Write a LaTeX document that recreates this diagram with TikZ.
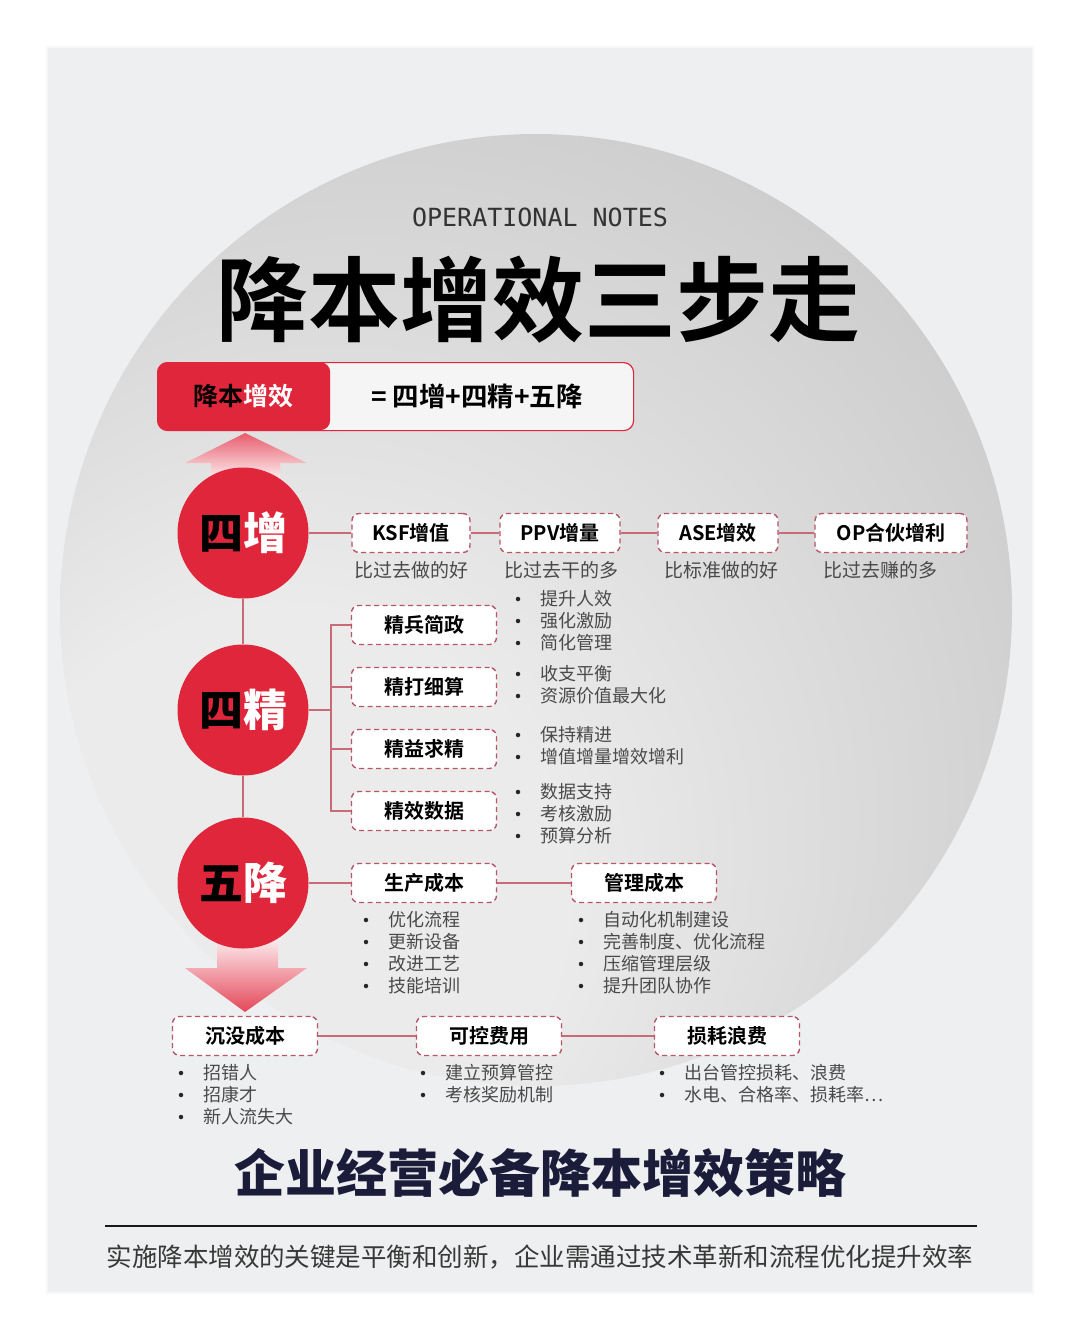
\documentclass[tikz,border=0pt]{standalone}
\usepackage{fontspec}
\setmainfont{Noto Sans CJK SC}
\newfontfamily\fbold{Noto Sans CJK SC Bold}
\newfontfamily\fblack{Noto Sans CJK SC Black}
\newfontfamily\fmono{DejaVu Sans Mono}
\definecolor{panel}{HTML}{EEEFF0}
\definecolor{cred}{HTML}{E0263B}
\definecolor{dashc}{HTML}{B5566A}
\definecolor{connc}{HTML}{C86A78}
\definecolor{txtgray}{HTML}{4A4A4A}
\definecolor{navy}{HTML}{1B1B3A}
\definecolor{bgA}{HTML}{EBEBEC}
\definecolor{bgB}{HTML}{BDBDBE}
\pgfdeclareradialshading{bigc}{\pgfpoint{-18bp}{-20bp}}{color(0bp)=(bgA); color(15bp)=(bgA); color(48bp)=(bgB); color(60bp)=(bgB)}
\newcommand\blist[4]{%
  \foreach \t [count=\i from 0] in {#4}{%
    \node[bdot] (#1d\i) at (#2,{#3+22*\i}) {};
    \node[bul] (#1t\i) at ({#2+22},{#3+22*\i}) {\t};}}
\tikzset{
  dbox/.style={draw=dashc, dash pattern=on 5pt off 3.5pt, line width=1.4pt, fill=white,
    rounded corners=7pt, minimum height=39pt, inner sep=0pt,
    font=\fbold\fontsize{20}{24}\selectfont, text=black},
  conn/.style={draw=connc, line width=1.2pt},
  sub/.style={font=\fontsize{19}{22}\selectfont, text=txtgray, inner sep=0pt},
  bul/.style={font=\fontsize{18}{21}\selectfont, text=txtgray, inner sep=0pt, anchor=west},
  bdot/.style={circle, fill=black!85, inner sep=0pt, minimum size=4.5pt},
  redc/.style={circle, fill=cred, minimum size=131pt, inner sep=0pt,
    font=\fblack\fontsize{44}{48}\selectfont},
}
\begin{document}
\begin{tikzpicture}[x=1pt,y=-1pt]
\useasboundingbox (0,0) rectangle (1080,1342);
\fill[white] (0,0) rectangle (1080,1342);
\fill[black!3] (46,46) rectangle (1034,1294);
\fill[panel] (48,48) rectangle (1032,1292);
% big circle
\begin{scope}
\clip (48,48) rectangle (1032,1292);
\shade[shading=bigc] (536,610) circle (476);
\end{scope}
% title
\node[font=\fmono\fontsize{25}{28}\selectfont, text=black!80] (op) at (540,217) {OPERATIONAL NOTES};
\node[font=\fbold\fontsize{92}{100}\selectfont, text=black] (title) at (538,300) {降本增效三步走};
% header
\node[draw=cred, line width=1.2pt, fill=panel!60!white, rounded corners=10pt, minimum width=476pt, minimum height=68pt, anchor=north west, inner sep=0pt] (hdr) at (157,362) {};
\node[fill=cred, rounded corners=10pt, minimum width=173pt, minimum height=68pt, anchor=north west, inner sep=0pt, font=\fbold\fontsize{25}{28}\selectfont] (hred) at (157,362) {\textcolor{black}{降本}\textcolor{white}{增效}};
\node[font=\fbold\fontsize{26.5}{30}\selectfont, text=black] (eq) at (477,396) {=\ 四增+四精+五降};
% arrows
\shade[top color=cred!75!white, bottom color=cred!6!white] (245,433) -- (307,463) -- (280,463) -- (280,480) -- (211,480) -- (211,463) -- (185,463) -- cycle;
\shade[top color=cred!5!white, bottom color=cred!85!white] (217,935) -- (278,935) -- (278,968) -- (307,968) -- (245,1012) -- (185,968) -- (217,968) -- cycle;
% circles
\node[redc] (c1) at (243,533) {\textcolor{black}{四}\textcolor{white}{增}};
\node[redc] (c2) at (243,710) {\textcolor{black}{四}\textcolor{white}{精}};
\node[redc] (c3) at (243,883) {\textcolor{black}{五}\textcolor{white}{降}};
\draw[conn] (c1) -- (c2);
\draw[conn] (c2) -- (c3);
% row 1
\node[dbox, minimum width=118pt] (ksf) at (411,533) {KSF增值};
\node[dbox, minimum width=120pt] (ppv) at (560,533) {PPV增量};
\node[dbox, minimum width=120pt] (ase) at (718,533) {ASE增效};
\node[dbox, minimum width=152pt] (opb) at (891,533) {OP合伙增利};
\draw[conn] (c1) -- (ksf);
\draw[conn] (ksf) -- (ppv);
\draw[conn] (ppv) -- (ase);
\draw[conn] (ase) -- (opb);
\node[sub] (s1) at (411,570) {比过去做的好};
\node[sub] (s2) at (561,570) {比过去干的多};
\node[sub] (s3) at (721,570) {比标准做的好};
\node[sub] (s4) at (880,570) {比过去赚的多};
% row 2
\node[dbox, minimum width=145pt] (j1) at (424,625) {精兵简政};
\node[dbox, minimum width=145pt] (j2) at (424,687) {精打细算};
\node[dbox, minimum width=145pt] (j3) at (424,749) {精益求精};
\node[dbox, minimum width=145pt] (j4) at (424,811) {精效数据};
\coordinate (bx) at (331,710);
\draw[conn] (c2) -- (bx);
\draw[conn] (j1.west) -| (bx);
\draw[conn] (j4.west) -| (bx);
\draw[conn] (j2.west) -- (j2.west -| bx);
\draw[conn] (j3.west) -- (j3.west -| bx);
\blist{ja}{518}{599}{提升人效,强化激励,简化管理}
\blist{jb}{518}{674}{收支平衡,资源价值最大化}
\blist{jc}{518}{735}{保持精进,增值增量增效增利}
\blist{jd}{518}{792}{数据支持,考核激励,预算分析}
% row 3
\node[dbox, minimum width=145pt] (sc) at (424,883) {生产成本};
\node[dbox, minimum width=145pt] (gl) at (644,883) {管理成本};
\draw[conn] (c3) -- (sc);
\draw[conn] (sc) -- (gl);
\blist{sa}{366}{920}{优化流程,更新设备,改进工艺,技能培训}
\blist{ga}{581}{920}{自动化机制建设,完善制度、优化流程,压缩管理层级,提升团队协作}
% row 4
\node[dbox, minimum width=145pt] (cm) at (245,1036) {沉没成本};
\node[dbox, minimum width=145pt] (kk) at (489,1036) {可控费用};
\node[dbox, minimum width=145pt] (sh) at (727,1036) {损耗浪费};
\draw[conn] (cm) -- (kk);
\draw[conn] (kk) -- (sh);
\blist{ca}{181}{1073}{招错人,招康才,新人流失大}
\blist{ka}{423}{1073}{建立预算管控,考核奖励机制}
\blist{ha}{662}{1073}{出台管控损耗、浪费,{水电、合格率、损耗率\ldots}}
% footer
\node[font=\fblack\fontsize{51}{56}\selectfont, text=navy] (foot) at (540,1173) {企业经营必备降本增效策略};
\draw[line width=2pt, black!90] (105,1226) -- (977,1226);
\node[font=\fontsize{25.5}{28}\selectfont, text=black!78] (note) at (540,1257) {实施降本增效的关键是平衡和创新，企业需通过技术革新和流程优化提升效率};
\end{tikzpicture}
\end{document}
